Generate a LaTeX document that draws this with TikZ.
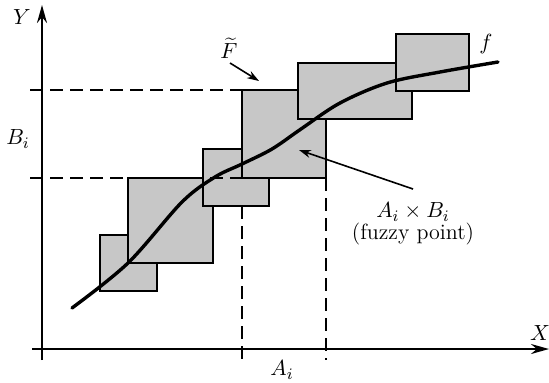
\documentclass[tikz,border=0pt]{standalone}
\usetikzlibrary{arrows.meta}
\begin{document}
\begin{tikzpicture}[x=0.5pt,y=-0.5pt,
  fbox/.style={draw=black,line width=0.7pt,fill=black!22},
  guide/.style={dashed,dash pattern=on 6.5pt off 3.5pt,line width=0.7pt},
  axis/.style={line width=1.1pt},
  ptr/.style={line width=0.8pt,-{Stealth[length=6pt,width=4pt]}},
  lbl/.style={font=\fontsize{11}{13}\selectfont,inner sep=1pt}]
\useasboundingbox (0,0) rectangle (549,382);
% boxes
\draw[fbox] (100,235) rectangle (157,291);
\draw[fbox] (128,178) rectangle (213,263);
\draw[fbox] (203,149) rectangle (269,206);
\draw[fbox] (242,90) rectangle (326,178);
\draw[fbox] (298,63) rectangle (412,119);
\draw[fbox] (396,34) rectangle (469,91);
% coordinates
\coordinate (yb) at (42,360);
\coordinate (yt) at (42,5);
\coordinate (xl) at (32,349);
\coordinate (xr) at (549,349);
\coordinate (bu0) at (30,90);
\coordinate (bu1) at (242,90);
\coordinate (bl0) at (30,178);
\coordinate (bl1) at (242,178);
\coordinate (a0t) at (242,206);
\coordinate (a0b) at (242,360);
\coordinate (a1t) at (326,178);
\coordinate (a1b) at (326,360);
% guides
\draw[guide] (bu0) -- (bu1);
\draw[guide] (bl0) -- (bl1);
\draw[guide] (a0t) -- (a0b);
\draw[guide] (a1t) -- (a1b);
% axes
\draw[axis,-{Stealth[length=9pt,width=5pt]}] (yb) -- (yt);
\draw[axis,-{Stealth[length=9pt,width=5pt]}] (xl) -- (xr);
% curve f
\draw[line width=1.7pt,line cap=round] plot[smooth,tension=0.55] coordinates
 {(72,308) (128,263) (182,202) (215,177) (242,164) (272,149) (301,129)
  (340,103) (387,83) (440,72) (498,62)};
% labels
\node[lbl] (Y) at (22,17) {$Y$};
\node[lbl] (X) at (540,333) {$X$};
\node[lbl] (Bi) at (18,139) {$B_i$};
\node[lbl] (Ai) at (282,370) {$A_i$};
\node[lbl] (F) at (229,48) {$\widetilde{F}$};
\node[lbl] (f) at (486,44) {$f$};
\node[lbl] (AB) at (413,212) {$A_i\times B_i$};
\node[lbl] (fp) at (413,234) {(fuzzy point)};
% pointers
\coordinate (Fs) at (230,63);
\coordinate (Fe) at (259,81);
\coordinate (ABs) at (413,189);
\coordinate (ABe) at (299,150);
\draw[ptr] (Fs) -- (Fe);
\draw[ptr] (ABs) -- (ABe);
\end{tikzpicture}
\end{document}
